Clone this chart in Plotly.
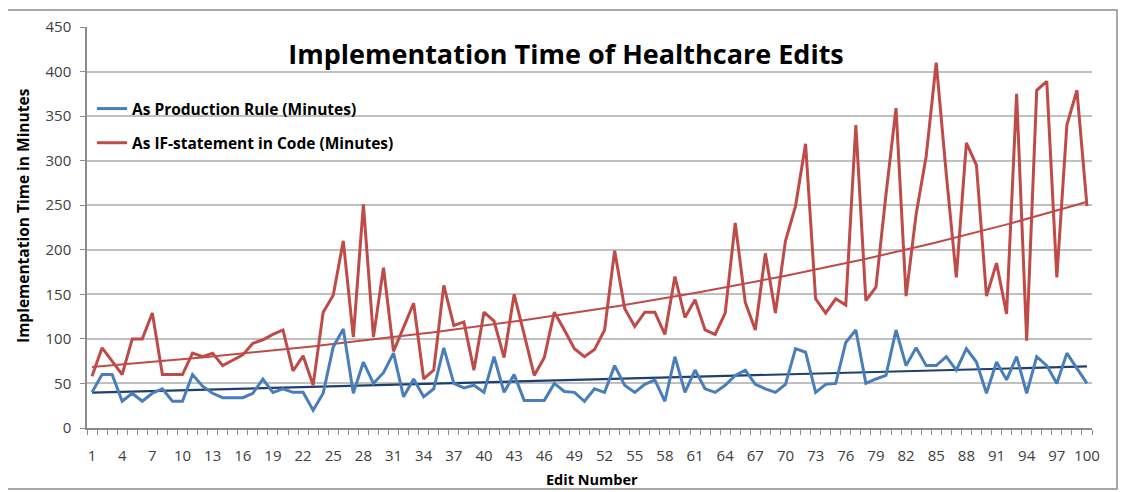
import numpy as np
import plotly.graph_objects as go

edits = list(range(1, 101))

production_rule = [
    40, 60, 60, 30, 39, 30, 39, 44, 30, 30,
    60, 47, 39, 34, 34, 34, 39, 55, 40, 44,
    40, 40, 20, 39, 91, 111, 39, 74, 50, 62,
    84, 35, 55, 35, 44, 90, 50, 45, 48, 40,
    80, 40, 60, 31, 31, 31, 50, 41, 40, 30,
    44, 40, 70, 48, 40, 49, 54, 30, 80, 40,
    65, 44, 40, 48, 59, 65, 49, 44, 40, 49,
    89, 85, 40, 49, 50, 96, 110, 50, 55, 59,
    110, 70, 90, 70, 70, 80, 65, 89, 74, 39,
    74, 54, 80, 39, 80, 70, 50, 84, 67, 50,
]

if_statement = [
    58, 90, 75, 60, 100, 100, 129, 60, 60, 60,
    84, 80, 84, 70, 76, 82, 95, 99, 105, 110,
    64, 81, 48, 130, 149, 210, 102, 251, 102, 180,
    86, 112, 140, 55, 65, 160, 115, 119, 65, 130,
    120, 79, 150, 105, 59, 79, 130, 110, 89, 80,
    88, 110, 199, 134, 114, 130, 130, 105, 170, 124,
    144, 110, 105, 129, 230, 141, 110, 196, 129, 210,
    249, 319, 145, 129, 145, 138, 340, 143, 158, 262,
    359, 148, 240, 305, 410, 285, 169, 320, 295, 148,
    185, 128, 375, 98, 379, 389, 169, 340, 379, 249,
]

x_tick_vals = list(range(1, 101, 3))
x_tick_text = [str(v) for v in x_tick_vals]
y_tick_vals = list(range(0, 451, 50))

series_names = ["As Production Rule (Minutes)", "As IF-statement in Code (Minutes)"]
title_text = "Implementation Time of Healthcare Edits"
y_title = "Implementation Time in Minutes"
x_title = "Edit Number"

# trendlines fitted from the data (linear for blue, exponential for red, as Excel)
xa = np.array(edits, dtype=float)
lin = np.polyfit(xa, np.array(production_rule, dtype=float), 1)
expc = np.polyfit(xa, np.log(np.array(if_statement, dtype=float)), 1)
xs = np.linspace(1, 100, 200)
blue_trend = np.polyval(lin, xs)
red_trend = np.exp(np.polyval(expc, xs))

OFF = 8  # default body margin of the page
W, H = 1137 - OFF, 492 - OFF
ML, MR, MT, MB = 87 - OFF, 45, 27 - OFF, 64
PW, PH = W - ML - MR, H - MT - MB

def px_to_paper_x(px):
    return (px - OFF - ML) / PW

def px_to_paper_y(py):
    return (H - MB - (py - OFF)) / PH

BLUE = "#4A7EBB"
RED = "#BE4B48"
NAVY = "#1F3F6E"
FONT = "Open Sans"

fig = go.Figure()
fig.add_trace(go.Scatter(x=xs, y=blue_trend, mode="lines",
                         line=dict(color=NAVY, width=2.2), showlegend=False, hoverinfo="skip"))
fig.add_trace(go.Scatter(x=xs, y=red_trend, mode="lines",
                         line=dict(color=RED, width=2), showlegend=False, hoverinfo="skip"))
fig.add_trace(go.Scatter(x=edits, y=production_rule, mode="lines", name=series_names[0],
                         line=dict(color=BLUE, width=3), legendgroup="a"))
fig.add_trace(go.Scatter(x=edits, y=if_statement, mode="lines", name=series_names[1],
                         line=dict(color=RED, width=3), legendgroup="b"))

fig.update_layout(
    width=W, height=H,
    margin=dict(l=ML, r=MR, t=MT, b=MB, autoexpand=False),
    paper_bgcolor="white", plot_bgcolor="white",
    font=dict(family=FONT, color="#404040", size=15),
    title=dict(text="<b>" + title_text + "</b>", xref="container", x=(566 - OFF) / W, xanchor="center",
               yref="container", y=1 - (55 - OFF) / H, yanchor="middle",
               font=dict(family=FONT, size=27, color="black")),
    showlegend=True,
    legend=dict(x=px_to_paper_x(92), xanchor="left", y=px_to_paper_y(92), yanchor="top",
                bgcolor="rgba(0,0,0,0)", font=dict(family=FONT, size=15.5, color="black", weight="bold"),
                traceorder="grouped", tracegroupgap=11, itemwidth=30),
    xaxis=dict(range=[0.5, 100.5], tickmode="array", tickvals=x_tick_vals, ticktext=x_tick_text,
               ticks="", showgrid=False, showline=True, linecolor="#8C8C8C", linewidth=1.5,
               ticklabelstandoff=13, tickfont=dict(size=15, color="#404040"),
               minor=dict(tickmode="array", tickvals=list(np.arange(0.5, 101, 1.0)),
                          ticks="outside", ticklen=5, tickwidth=1, tickcolor="#8C8C8C", showgrid=False),
               zeroline=False, fixedrange=True),
    yaxis=dict(range=[0, 450], tickmode="array", tickvals=y_tick_vals, ticks="outside", ticklen=5,
               tickcolor="#8C8C8C", showgrid=True, gridcolor="#C0C0C0", gridwidth=1.5,
               showline=True, linecolor="#8C8C8C", linewidth=1.5, zeroline=False,
               ticklabelstandoff=6, tickfont=dict(size=15, color="#404040"), fixedrange=True),
    annotations=[
        dict(text="<b>" + y_title + "</b>", xref="paper", yref="paper",
             x=px_to_paper_x(23), y=px_to_paper_y(216), textangle=-90, showarrow=False,
             xanchor="center", yanchor="middle", font=dict(family=FONT, size=15.5, color="black")),
        dict(text="<b>" + x_title + "</b>", xref="paper", yref="paper",
             x=px_to_paper_x(592), y=px_to_paper_y(479), showarrow=False,
             xanchor="center", yanchor="middle", font=dict(family=FONT, size=14.5, color="black")),
    ],
    shapes=[dict(type="rect", xref="paper", yref="paper",
                 x0=px_to_paper_x(3), x1=px_to_paper_x(1117),
                 y0=px_to_paper_y(489), y1=px_to_paper_y(10),
                 line=dict(color="#8C8C8C", width=1.5), layer="below")],
)

fig.write_html("out.html")
